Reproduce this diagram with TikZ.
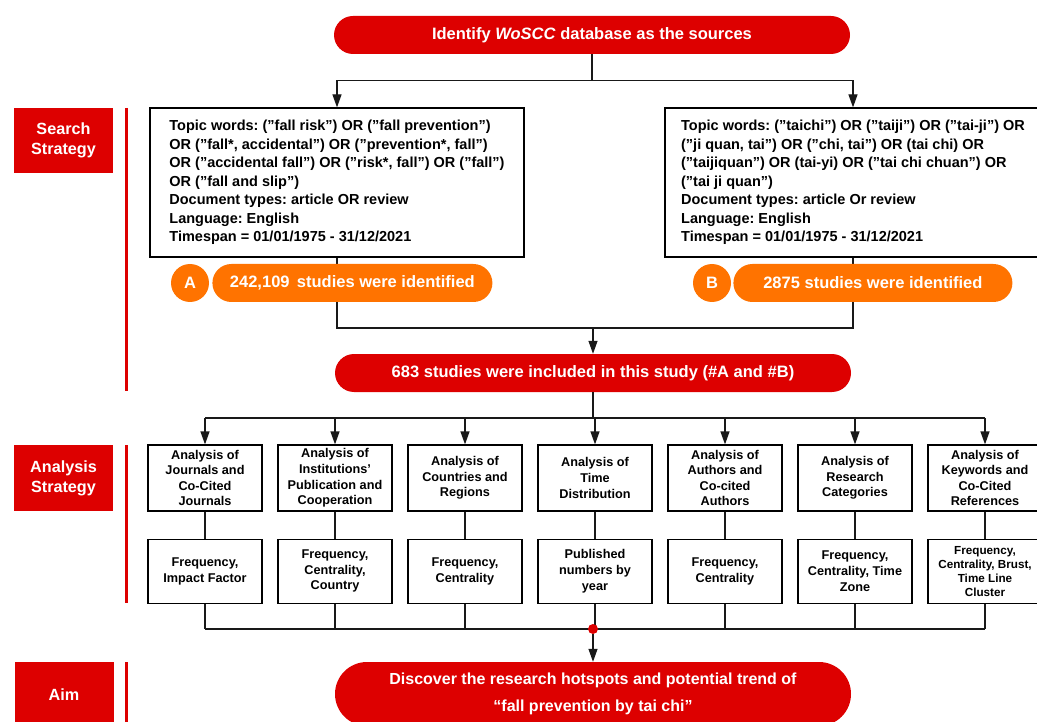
\documentclass[tikz,border=0pt]{standalone}
\usepackage{fontspec}
\setmainfont{Liberation Sans}
\usepackage{xcolor}
\usetikzlibrary{arrows.meta,positioning,shapes.misc}
\definecolor{pillred}{RGB}{221,0,0}
\definecolor{pillorange}{RGB}{255,115,0}
\frenchspacing

\begin{document}
\begin{tikzpicture}[x=1pt,y=-1pt,>={Triangle[length=13pt,width=9pt]},
  line/.style={line width=1.2pt,black!90},
  arr/.style={line,->},
  redpill/.style={rounded rectangle,fill=pillred,text=white,font=\bfseries\fontsize{16.5}{20}\selectfont,minimum width=516pt,minimum height=38pt,inner sep=0pt},
  orpill/.style={rounded rectangle,fill=pillorange,text=white,font=\bfseries\fontsize{16.5}{20}\selectfont,minimum height=38pt,inner sep=0pt},
  tag/.style={circle,fill=pillorange,text=white,font=\bfseries\fontsize{16.5}{20}\selectfont,minimum size=38pt,inner sep=0pt},
  query/.style={draw,line width=1.2pt,minimum height=149pt,align=left,inner sep=0pt,font=\bfseries\fontsize{14.5}{18.5}\selectfont},
  stage/.style={fill=pillred,text=white,minimum width=99pt,minimum height=65pt,align=center,font=\bfseries\fontsize{16.2}{20}\selectfont},
  rule/.style={pillred,line width=3pt},
  anbox/.style={draw,line width=1.2pt,minimum width=114pt,minimum height=66pt,inner sep=1pt,align=center,font=\bfseries\fontsize{12.7}{15.6}\selectfont},
  resbox/.style={anbox,minimum height=64pt},
  plain/.style={},
  tight/.style={font=\bfseries\fontsize{11.7}{14}\selectfont},
  dot/.style={circle,fill=pillred,minimum size=10pt,inner sep=0pt}]
\useasboundingbox (0,0) rectangle (1037,722);

% stage labels
\node[stage] (search) at (63.5,140.5) {Search\\Strategy};
\node[stage,minimum height=66pt] (analysis) at (63.5,478) {Analysis\\Strategy};
\node[stage,minimum height=66pt] (aimlabel) at (64,695) {Aim};
\draw[rule] (126,108) -- (126,391);
\draw[rule] (126,445) -- (126,603);
\draw[rule] (126,662) -- (126,722);

% sources and queries
\node[redpill] (src) at (592,35) {Identify \textit{WoSCC} database as the sources};
\node[query,minimum width=374pt] (lbox) at (337,182.5) {Topic words: (”fall risk”) OR (”fall prevention”)\\
OR (”fall*, accidental”) OR (”prevention*, fall”)\\
OR (”accidental fall”) OR (”risk*, fall”) OR (”fall”)\\
OR (”fall and slip”)\\
Document types: article OR review\\
Language: English\\
Timespan = 01/01/1975 - 31/12/2021};
\node[query,minimum width=376pt] (rbox) at (853,182.5) {Topic words: (”taichi”) OR (”taiji”) OR (”tai-ji”) OR\\
(”ji quan, tai”) OR (”chi, tai”) OR (tai chi) OR\\
(”taijiquan”) OR (tai-yi) OR (”tai chi chuan”) OR\\
(”tai ji quan”)\\
Document types: article Or review\\
Language: English\\
Timespan = 01/01/1975 - 31/12/2021};
\node[redpill] (incl) at (593,373) {683 studies were included in this study (\#A and \#B)};

\draw[arr] (src.south) -- ++(0,26) -| (lbox.north);
\draw[arr] (src.south) -- ++(0,26) -| (rbox.north);
\coordinate (joinAB) at (593,328);
\draw[line] (lbox.south) |- (joinAB) -| (rbox.south);
\draw[arr] (joinAB) -- (incl.north);

% identified counts
\node[tag] (tagA) at (190,283) {A};
\node[orpill,minimum width=280pt,right=3pt of tagA] (cntA) {242,109\, studies were identified};
\node[tag] (tagB) at (712,283) {B};
\node[orpill,minimum width=279pt,right=2pt of tagB] (cntB) {2875 studies were identified};

% analysis boxes
\foreach \ta/\tb/\sty [count=\i] in {
  {Analysis of\\Journals and\\Co-Cited\\Journals}/{Frequency,\\Impact Factor}/plain,
  {Analysis of\\Institutions’\\Publication and\\Cooperation}/{Frequency,\\Centrality,\\Country}/plain,
  {Analysis of\\Countries and\\Regions}/{Frequency,\\Centrality}/plain,
  {Analysis of\\Time\\Distribution}/{Published\\numbers by\\year}/plain,
  {Analysis of\\Authors and\\Co-cited\\Authors}/{Frequency,\\Centrality}/plain,
  {Analysis of\\Research\\Categories}/{Frequency,\\Centrality, Time\\Zone}/plain,
  {Analysis of\\Keywords and\\Co-Cited\\References}/{Frequency,\\Centrality, Brust,\\Time Line\\Cluster}/tight}{
  \node[anbox] (an\i) at ({205+130*(\i-1)},478) {\ta};
  \node[resbox,\sty,below=27pt of an\i] (res\i) {\tb};
  \draw[line] (an\i) -- (res\i);
}

\coordinate (split) at (593,418);
\draw[line] (incl.south) -- (split);
\draw[line] (split -| an1) -- (split -| an7);
\foreach \i in {1,...,7}
  \draw[arr] (split -| an\i) -- (an\i.north);

\coordinate (merge) at (593,629);
\draw[line] (merge -| res1) -- (merge -| res7);
\foreach \i in {1,...,7}
  \draw[line] (res\i.south) -- (merge -| res\i);
\node[dot] (hub) at (merge) {};

% aim
\node[redpill,minimum height=64pt,align=center,font=\bfseries\fontsize{16}{27}\selectfont] (aim) at (593,694)
  {Discover the research hotspots and potential trend of\\“fall prevention by tai chi”};
\draw[arr] (hub) -- (aim.north);
\end{tikzpicture}
\end{document}
